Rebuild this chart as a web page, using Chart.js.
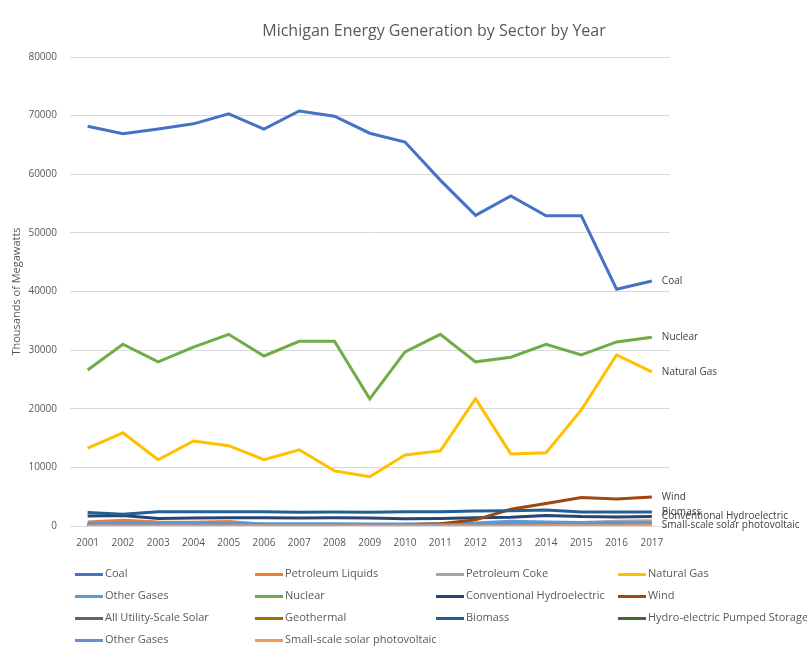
<!DOCTYPE html>
<html>
<head>
<meta charset="utf-8">
<script src="https://cdn.jsdelivr.net/npm/chart.js@4.4.1/dist/chart.umd.min.js"></script>
<style>
body { margin: 0; background: #fff; font-family: "Open Sans", sans-serif; }
#wrap { position: relative; width: 807px; height: 650px; }
.item { position: absolute; font-size: 11px; color: #595959; white-space: nowrap; line-height: 14px; }
.item .sw { display: inline-block; width: 28px; height: 3px; vertical-align: middle; margin-right: 2px; }
</style>
</head>
<body>
<div id="wrap">
  <canvas id="myChart" width="807" height="650"></canvas>
  <div id="legend"></div>
</div>
<script>
var years = ['2001','2002','2003','2004','2005','2006','2007','2008','2009','2010','2011','2012','2013','2014','2015','2016','2017'];

var coal        = [68200, 66900, 67700, 68600, 70300, 67700, 70800, 69900, 67000, 65500, 59000, 53000, 56300, 52900, 52900, 40400, 41800];
var petroLiq    = [700, 1000, 700, 650, 750, 300, 250, 200, 150, 150, 120, 100, 120, 150, 100, 80, 80];
var petroCoke   = [200, 250, 250, 250, 250, 250, 250, 250, 250, 250, 250, 250, 300, 400, 600, 800, 900];
var natGas      = [13300, 15900, 11300, 14500, 13700, 11300, 13000, 9400, 8400, 12100, 12800, 21700, 12300, 12500, 19800, 29200, 26300];
var otherGases  = [400, 500, 500, 500, 500, 400, 400, 400, 350, 350, 400, 500, 800, 700, 600, 600, 600];
var nuclear     = [26600, 31000, 28000, 30500, 32700, 29000, 31500, 31500, 21700, 29700, 32700, 28000, 28800, 31000, 29200, 31400, 32200];
var hydro       = [1700, 1800, 1300, 1350, 1400, 1400, 1350, 1400, 1350, 1250, 1300, 1400, 1500, 1800, 1600, 1550, 1600];
var wind        = [0, 0, 0, 0, 0, 0, 0, 100, 150, 200, 400, 1050, 2850, 3850, 4850, 4600, 4950];
var utilSolar   = [0, 0, 0, 0, 0, 0, 0, 0, 0, 0, 0, 0, 0, 0, 0, 20, 60];
var geothermal  = [0, 0, 0, 0, 0, 0, 0, 0, 0, 0, 0, 0, 0, 0, 0, 0, 0];
var biomass     = [2300, 2000, 2450, 2450, 2450, 2450, 2350, 2400, 2350, 2450, 2450, 2550, 2600, 2750, 2400, 2400, 2400];
var pumped      = [0, 0, 0, 0, 0, 0, 0, 0, 0, 0, 0, 0, 0, 0, 0, 0, 0];
var otherGases2 = [300, 350, 300, 300, 300, 250, 250, 250, 200, 200, 200, 250, 300, 350, 300, 300, 300];
var smallSolar  = [0, 0, 0, 0, 0, 0, 0, 0, 0, 0, 0, 0, 0, 30, 40, 60, 80];

var names = ['Coal', 'Petroleum Liquids', 'Petroleum Coke', 'Natural Gas', 'Other Gases', 'Nuclear',
  'Conventional Hydroelectric', 'Wind', 'All Utility-Scale Solar', 'Geothermal', 'Biomass',
  'Hydro-electric Pumped Storage', 'Other Gases', 'Small-scale solar photovoltaic'];
var values = [coal, petroLiq, petroCoke, natGas, otherGases, nuclear, hydro, wind, utilSolar,
  geothermal, biomass, pumped, otherGases2, smallSolar];
var colors = ['#4472C4', '#ED7D31', '#A5A5A5', '#FFC000', '#5B9BD5', '#70AD47', '#264478', '#9E480E',
  '#636363', '#997300', '#255E91', '#43682B', '#698ED0', '#F1975A'];

// series that get a name at the end of their line
var endLabels = [0, 3, 5, 6, 7, 10, 13];

var datasets = names.map(function(n, i) {
  return {
    label: n,
    data: values[i],
    borderColor: colors[i],
    backgroundColor: colors[i],
    borderWidth: 3,
    pointRadius: 0,
    tension: 0,
    fill: false,
    order: names.length - i
  };
});

var extras = {
  id: 'extras',
  afterDatasetsDraw: function(chart) {
    var c = chart.ctx;
    c.save();
    c.font = '10px "Open Sans"';
    c.fillStyle = '#404040';
    c.textBaseline = 'middle';
    endLabels.forEach(function(i) {
      var meta = chart.getDatasetMeta(i);
      var pt = meta.data[meta.data.length - 1];
      c.fillText(names[i], pt.x + 10, pt.y);
    });
    c.font = '16px "Open Sans"';
    c.fillStyle = '#595959';
    c.textAlign = 'center';
    c.fillText('Michigan Energy Generation by Sector by Year', 434, 31);
    c.restore();
  }
};

var ctx = document.getElementById('myChart');

var chart = new Chart(ctx, {
  type: 'line',
  data: { labels: years, datasets: datasets },
  plugins: [extras],
  options: {
    responsive: false,
    animation: false,
    layout: { padding: { top: 57, right: 137.5, bottom: 94, left: 0 } },
    plugins: {
      legend: { display: false },
      tooltip: { enabled: false }
    },
    scales: {
      x: {
        offset: true,
        grid: { display: false },
        border: { display: true, color: '#d9d9d9' },
        ticks: { color: '#595959', font: { family: 'Open Sans', size: 10 }, padding: 3, maxRotation: 0, autoSkip: false },
        afterFit: function(s) { s.height = 30; }
      },
      y: {
        min: 0,
        max: 80000,
        ticks: {
          stepSize: 10000,
          color: '#595959',
          font: { family: 'Open Sans', size: 10 },
          padding: 13,
          callback: function(v) { return v; }
        },
        grid: { color: '#d9d9d9', drawTicks: false },
        border: { display: false },
        title: {
          display: true,
          text: 'Thousands of Megawatts',
          color: '#595959',
          font: { family: 'Open Sans', size: 11 },
          padding: { top: 10, bottom: 0 }
        },
        afterFit: function(s) { s.width = 70; }
      }
    }
  }
});

// legend in four columns under the chart
var colX = [75, 255, 436, 618];
var rowY = [573, 595, 617, 639];
var leg = document.getElementById('legend');
names.forEach(function(n, i) {
  var d = document.createElement('div');
  d.className = 'item';
  d.style.left = colX[i % 4] + 'px';
  d.style.top = (rowY[Math.floor(i / 4)] - 7) + 'px';
  d.innerHTML = '<span class="sw" style="background:' + colors[i] + '"></span>' + n;
  leg.appendChild(d);
});
</script>
</body>
</html>
